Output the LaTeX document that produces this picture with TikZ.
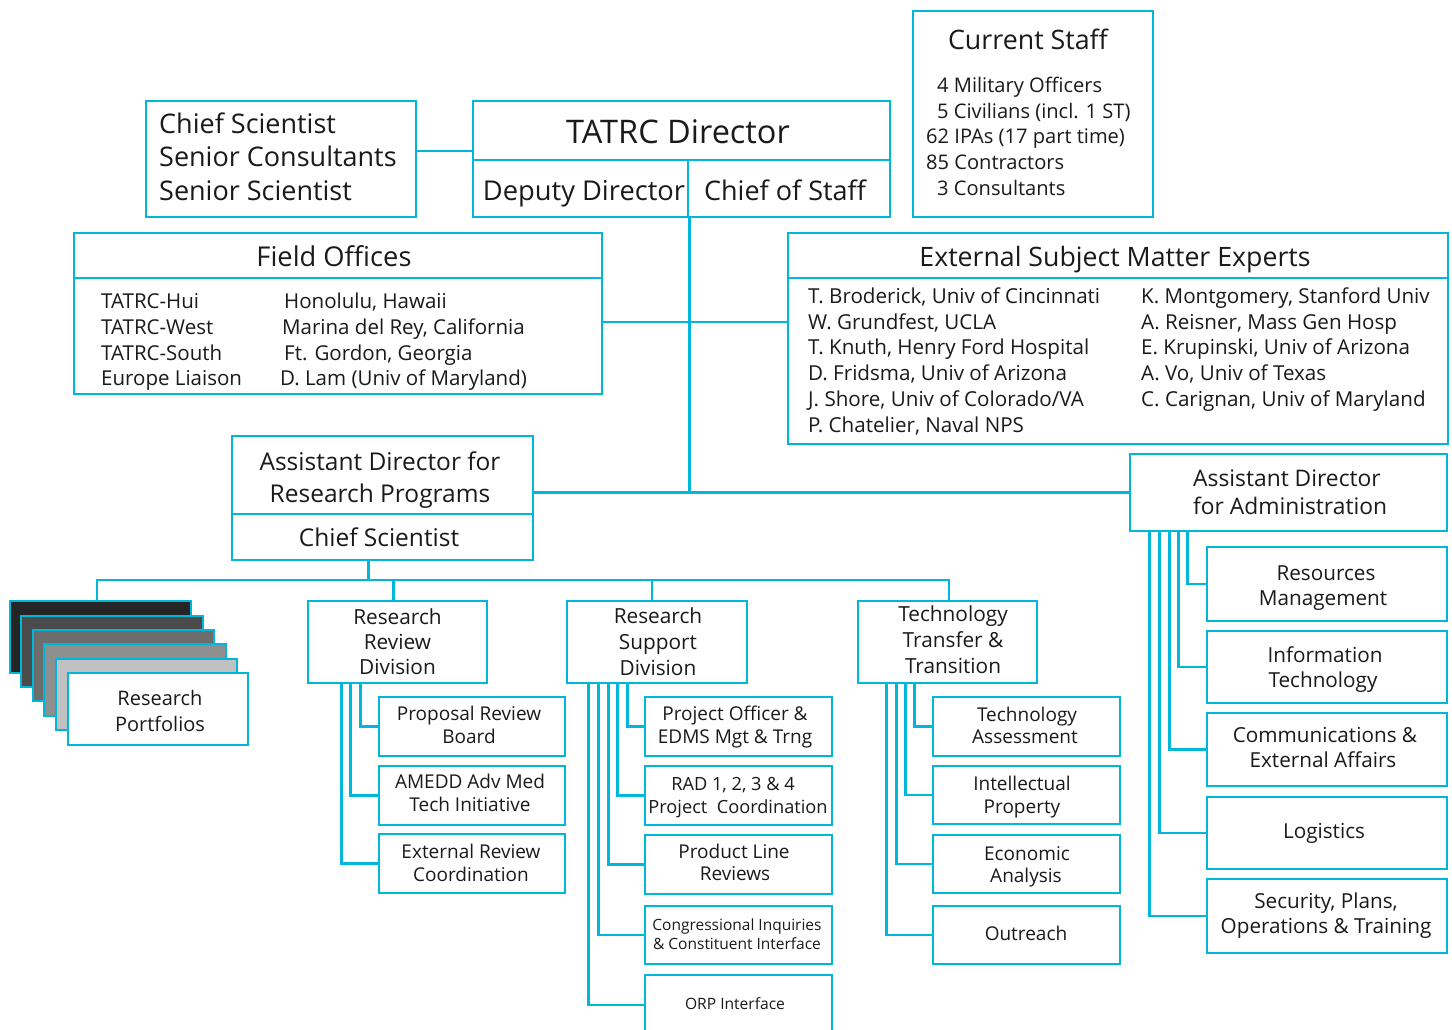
\documentclass[tikz,border=0pt]{standalone}
\usepackage{fontspec}
\setmainfont{Open Sans}
\definecolor{cy}{RGB}{0,182,218}
\definecolor{ink}{RGB}{26,26,26}
\definecolor{g1}{RGB}{37,37,37}
\definecolor{g2}{RGB}{75,75,75}
\definecolor{g3}{RGB}{109,109,109}
\definecolor{g4}{RGB}{143,143,143}
\definecolor{g5}{RGB}{192,192,192}
\newcommand{\fs}[1]{\fontsize{#1}{#1}\selectfont}
\newcommand{\bx}[6][]{\node[box,#1,minimum width={(#5-#3)*1pt},minimum height={(#6-#4)*1pt}] (#2) at ({(#3+#5)/2},{(#4+#6)/2}) {};}
\newcommand{\tline}[5][]{\node[txt,#1] (#2) at (#3,#4) {#5};}
\tikzset{
  box/.style={draw=cy, line width=2.6pt, fill=white, inner sep=0pt},
  txt/.style={inner sep=0pt, text=ink, anchor=base},
  conn/.style={draw=cy, line width=2.6pt},
}
\begin{document}
\begin{tikzpicture}[x=1pt,y=-1pt]
\useasboundingbox[fill=white] (0,0) rectangle (1452,1029);

% ---------- top row ----------
\bx{chief}{146}{101}{416}{217}
\tline[anchor=base west,font=\fs{27}]{ch1}{159}{133}{Chief Scientist}
\tline[anchor=base west,font=\fs{27}]{ch2}{159}{166.5}{Senior Consultants}
\tline[anchor=base west,font=\fs{27}]{ch3}{159}{200}{Senior Scientist}

\bx{dirtop}{473}{101}{890}{160}
\bx{dep}{473}{160}{688}{217}
\bx{cos}{688}{160}{890}{217}
\tline[font=\fs{32.5}]{dirt}{678}{143}{TATRC Director}
\tline[font=\fs{27.3}]{dept}{584}{200}{Deputy Director}
\tline[font=\fs{27}]{cost}{785}{200}{Chief of Staff}

\bx{staff}{913}{11}{1153}{217}
\tline[font=\fs{26.8}]{st0}{1028}{49}{Current Staff}
\tline[anchor=base west,font=\fs{20.1}]{st1}{937}{92}{4 Military Officers}
\tline[anchor=base west,font=\fs{20.1}]{st2}{937}{118}{5 Civilians (incl. 1 ST)}
\tline[anchor=base west,font=\fs{20.1}]{st3}{926}{143}{62 IPAs (17 part time)}
\tline[anchor=base west,font=\fs{20.1}]{st4}{926}{169}{85 Contractors}
\tline[anchor=base west,font=\fs{20.1}]{st5}{937}{195}{3 Consultants}

% ---------- field offices ----------
\bx{fohead}{74}{233}{602}{278}
\bx{fobody}{74}{278}{602}{394}
\tline[font=\fs{27.3}]{fot}{334}{266}{Field Offices}
\tline[anchor=base west,font=\fs{20.5}]{fa1}{101}{308}{TATRC-Hui}
\tline[anchor=base west,font=\fs{20.5}]{fa2}{101}{334}{TATRC-West}
\tline[anchor=base west,font=\fs{20.5}]{fa3}{101}{360}{TATRC-South}
\tline[anchor=base west,font=\fs{20.5}]{fa4}{101}{385}{Europe Liaison}
\tline[anchor=base west,font=\fs{20.5}]{fb1}{284}{308}{Honolulu, Hawaii}
\tline[anchor=base west,font=\fs{20.5}]{fb2}{282}{334}{Marina del Rey, California}
\tline[anchor=base west,font=\fs{20.5}]{fb3}{284}{360}{Ft. Gordon, Georgia}
\tline[anchor=base west,font=\fs{20.5}]{fb4}{280}{385}{D. Lam (Univ of Maryland)}

% ---------- external SMEs ----------
\bx{smehead}{788}{233}{1448}{278}
\bx{smebody}{788}{278}{1448}{444}
\tline[font=\fs{26.7}]{smet}{1115}{266}{External Subject Matter Experts}
\tline[anchor=base west,font=\fs{20.6}]{sa1}{808}{303.5}{T. Broderick, Univ of Cincinnati}
\tline[anchor=base west,font=\fs{20.6}]{sa2}{808}{329}{W. Grundfest, UCLA}
\tline[anchor=base west,font=\fs{20.6}]{sa3}{808}{354.5}{T. Knuth, Henry Ford Hospital}
\tline[anchor=base west,font=\fs{20.6}]{sa4}{808}{380}{D. Fridsma, Univ of Arizona}
\tline[anchor=base west,font=\fs{20.6}]{sa5}{808}{406}{J. Shore, Univ of Colorado/VA}
\tline[anchor=base west,font=\fs{20.6}]{sa6}{808}{432}{P. Chatelier, Naval NPS}
\tline[anchor=base west,font=\fs{20.6}]{sb1}{1141}{303.5}{K. Montgomery, Stanford Univ}
\tline[anchor=base west,font=\fs{20.6}]{sb2}{1141}{329}{A. Reisner, Mass Gen Hosp}
\tline[anchor=base west,font=\fs{20.6}]{sb3}{1141}{354.5}{E. Krupinski, Univ of Arizona}
\tline[anchor=base west,font=\fs{20.6}]{sb4}{1141}{380}{A. Vo, Univ of Texas}
\tline[anchor=base west,font=\fs{20.6}]{sb5}{1141}{406}{C. Carignan, Univ of Maryland}

% ---------- assistant directors ----------
\bx{adrp}{232}{436}{533}{514}
\bx{cs}{232}{514}{533}{560}
\tline[font=\fs{24.5}]{adrp1}{380}{470}{Assistant Director for}
\tline[font=\fs{24.5}]{adrp2}{380}{502}{Research Programs}
\tline[font=\fs{24.5}]{cst}{379}{546}{Chief Scientist}
\bx{adadm}{1130}{454}{1447}{531}
\tline[anchor=base west,font=\fs{22.8}]{ada1}{1193}{486.5}{Assistant Director}
\tline[anchor=base west,font=\fs{22.8}]{ada2}{1193}{514}{for Administration}

% ---------- research portfolios ----------
\bx[fill=g1]{port1}{10}{601}{191}{673}
\bx[fill=g2]{port2}{21}{616}{203}{687}
\bx[fill=g3]{port3}{33}{630}{214}{701}
\bx[fill=g4]{port4}{44}{644}{226}{716}
\bx[fill=g5]{port5}{56}{659}{237}{730}
\bx{port6}{68}{673}{248}{745}
\tline[font=\fs{20}]{pt1}{160}{705}{Research}
\tline[font=\fs{20}]{pt2}{160}{731}{Portfolios}

% ---------- divisions ----------
\bx{rrd}{308}{601}{487}{683}
\tline[font=\fs{20.8}]{rrd1}{397.5}{624}{Research}
\tline[font=\fs{20.8}]{rrd2}{397.5}{649}{Review}
\tline[font=\fs{20.8}]{rrd3}{397.5}{674}{Division}
\bx{rsd}{567}{601}{747}{683}
\tline[font=\fs{20.8}]{rsd1}{658}{623}{Research}
\tline[font=\fs{20.8}]{rsd2}{658}{649.5}{Support}
\tline[font=\fs{20.8}]{rsd3}{658}{675}{Division}
\bx{ttt}{858}{601}{1037}{683}
\tline[font=\fs{20.8}]{ttt1}{953}{621.5}{Technology}
\tline[font=\fs{20.8}]{ttt2}{953}{647.5}{Transfer \&}
\tline[font=\fs{20.8}]{ttt3}{953}{673}{Transition}

\bx{prb}{379}{697}{565}{756}
\tline[font=\fs{19}]{prb1}{469}{720}{Proposal Review}
\tline[font=\fs{19}]{prb2}{469}{743}{Board}
\bx{amedd}{379}{766}{565}{825}
\tline[font=\fs{19}]{am1}{470}{788}{AMEDD Adv Med}
\tline[font=\fs{19}]{am2}{470}{811.5}{Tech Initiative}
\bx{erc}{379}{834}{565}{893}
\tline[font=\fs{19}]{er1}{471}{858}{External Review}
\tline[font=\fs{19}]{er2}{471}{881}{Coordination}

\bx{po}{645}{697}{832}{756}
\tline[font=\fs{19}]{po1}{735}{720}{Project Officer \&}
\tline[font=\fs{19}]{po2}{735}{743}{EDMS Mgt \& Trng}
\bx{rad}{645}{766}{832}{825}
\tline[font=\fs{18.2}]{rad1}{733}{790.5}{RAD 1, 2, 3 \& 4}
\tline[font=\fs{18.2}]{rad2}{738}{813}{Project\ \ Coordination}
\bx{plr}{645}{835}{832}{894}
\tline[font=\fs{19}]{plr1}{734}{858}{Product Line}
\tline[font=\fs{19}]{plr2}{735}{880}{Reviews}
\bx{ci}{645}{906}{832}{964}
\tline[font=\fs{15.5}]{ci1}{737}{930}{Congressional Inquiries}
\tline[font=\fs{15.5}]{ci2}{737}{949}{\& Constituent Interface}
\bx{orp}{645}{975}{832}{1035}
\tline[font=\fs{15.6}]{orp1}{735}{1009}{ORP Interface}

\bx{ta}{933}{697}{1120}{756}
\tline[font=\fs{19}]{ta1}{1027}{721.5}{Technology}
\tline[font=\fs{19}]{ta2}{1025}{743}{Assessment}
\bx{ip}{933}{766}{1120}{824}
\tline[font=\fs{19}]{ip1}{1022}{790}{Intellectual}
\tline[font=\fs{19}]{ip2}{1022}{813}{Property}
\bx{ea}{933}{835}{1120}{893}
\tline[font=\fs{19}]{ea1}{1027}{860}{Economic}
\tline[font=\fs{19}]{ea2}{1026}{882}{Analysis}
\bx{outr}{933}{906}{1120}{964}
\tline[font=\fs{19}]{out1}{1026}{940}{Outreach}

\bx{rm}{1207}{547}{1447}{621}
\tline[font=\fs{20.7}]{rm1}{1326}{580}{Resources}
\tline[font=\fs{20.7}]{rm2}{1323}{605}{Management}
\bx{it}{1207}{631}{1447}{703}
\tline[font=\fs{20.7}]{it1}{1325}{662}{Information}
\tline[font=\fs{20.7}]{it2}{1323}{687.5}{Technology}
\bx{cea}{1207}{713}{1447}{786}
\tline[font=\fs{20.7}]{cea1}{1325}{742.5}{Communications \&}
\tline[font=\fs{20.7}]{cea2}{1323}{767.5}{External Affairs}
\bx{logi}{1207}{797}{1447}{869}
\tline[font=\fs{20.7}]{log1}{1324}{838}{Logistics}
\bx{spot}{1207}{879}{1447}{953}
\tline[font=\fs{20.7}]{sp1}{1326}{908}{Security, Plans,}
\tline[font=\fs{20.7}]{sp2}{1326}{933}{Operations \& Training}

% ---------- connectors ----------
\draw[conn] ([yshift=8pt]chief.east) -- ([yshift=8pt]chief.east -| dirtop.west);
\draw[conn] (dep.south east) -- (dep.south east |- adadm.west);
\draw[conn] (adadm.west) -- (adadm.west -| adrp.east);
\draw[conn] ([yshift=14pt]fobody.east) -- ([yshift=14pt]fobody.east -| smebody.west);

\coordinate (bus) at (0,580);
\coordinate (tttn) at ([xshift=1.5pt]ttt.north);
\coordinate (port1n) at ([xshift=-3.5pt]port1.north);
\draw[conn] ([xshift=-14pt]cs.south) -- ([xshift=-14pt]cs.south |- bus);
\draw[conn] (port1n) |- (bus -| tttn) -- (tttn);
\draw[conn] ([xshift=-4pt]rrd.north) -- ([xshift=-4pt]rrd.north |- bus);
\draw[conn] ([xshift=-5pt]rsd.north) -- ([xshift=-5pt]rsd.north |- bus);

\draw[conn] ([xshift=54pt]rrd.south west) |- (prb.west);
\draw[conn] ([xshift=44pt]rrd.south west) |- (amedd.west);
\draw[conn] ([xshift=35pt]rrd.south west) |- (erc.west);

\draw[conn] ([xshift=62pt]rsd.south west) |- (po.west);
\draw[conn] ([xshift=52pt]rsd.south west) |- (rad.west);
\draw[conn] ([xshift=43pt]rsd.south west) |- (plr.west);
\draw[conn] ([xshift=33pt]rsd.south west) |- (ci.west);
\draw[conn] ([xshift=23pt]rsd.south west) |- (orp.west);

\draw[conn] ([xshift=58pt]ttt.south west) |- (ta.west);
\draw[conn] ([xshift=49pt]ttt.south west) |- (ip.west);
\draw[conn] ([xshift=40pt]ttt.south west) |- (ea.west);
\draw[conn] ([xshift=30pt]ttt.south west) |- (outr.west);

\draw[conn] ([xshift=59pt]adadm.south west) |- (rm.west);
\draw[conn] ([xshift=50pt]adadm.south west) |- (it.west);
\draw[conn] ([xshift=41pt]adadm.south west) |- (cea.west);
\draw[conn] ([xshift=31pt]adadm.south west) |- (logi.west);
\draw[conn] ([xshift=21pt]adadm.south west) |- (spot.west);
\end{tikzpicture}
\end{document}
